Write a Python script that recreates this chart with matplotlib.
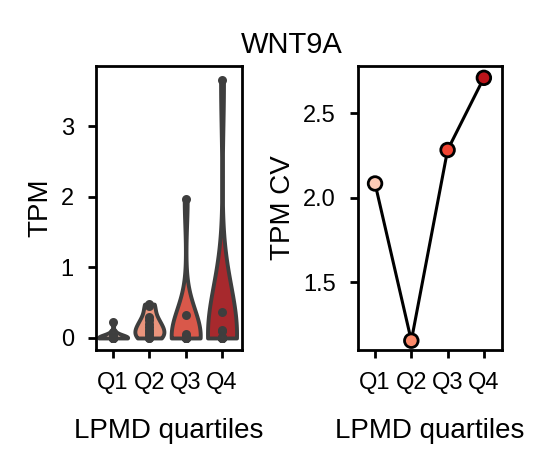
import numpy as np
import pandas as pd
import matplotlib
matplotlib.use("Agg")
import matplotlib.pyplot as plt
import seaborn as sns

plt.rcParams['font.family'] = ['Liberation Sans', 'DejaVu Sans']

categories = ["Q1", "Q2", "Q3", "Q4"]
q1_tpm = [0, 0, 0, 0, 0, 0, 0, 0, 0.01, 0.02, 0.04, 0.08, 0.22]
q2_tpm = [0, 0, 0.02, 0.05, 0.08, 0.12, 0.16, 0.2, 0.25, 0.3, 0.45, 0.48]
q3_tpm = [0, 0, 0, 0, 0, 0, 0.01, 0.03, 0.06, 0.33, 1.97]
q4_tpm = [0, 0, 0, 0, 0, 0, 0.02, 0.1, 0.12, 0.37, 3.65]
tpm_cv = [2.085, 1.155, 2.283, 2.71]
title = "WNT9A"

palette = sns.color_palette("Reds", 4)

df = pd.DataFrame({
    "quartile": sum([[c] * len(v) for c, v in zip(categories, [q1_tpm, q2_tpm, q3_tpm, q4_tpm])], []),
    "tpm": q1_tpm + q2_tpm + q3_tpm + q4_tpm,
})

fig = plt.figure(figsize=(557 / 200, 473 / 200), dpi=200)
ax1 = fig.add_axes([96 / 557, 1 - 350 / 473, 146 / 557, 284 / 473])
ax2 = fig.add_axes([358 / 557, 1 - 350 / 473, 144 / 557, 284 / 473])

sns.violinplot(data=df, x="quartile", y="tpm", hue="quartile", order=categories,
               hue_order=categories, palette=palette, cut=0, inner="point",
               density_norm="width", linewidth=1.4, legend=False, ax=ax1,
               inner_kws=dict(s=5, color="#3f3f3f"))
ax1.set_ylim(-0.17, 3.85)
ax1.set_xlim(-0.47, 3.55)
ax1.set_yticks([0, 1, 2, 3])
ax1.set_ylabel("TPM", fontsize=10, labelpad=2.5)
ax1.set_xlabel("LPMD quartiles", fontsize=10, labelpad=8.5)

x = np.arange(len(categories))
ax2.plot(x, tpm_cv, color="black", linewidth=1.1, zorder=1)
ax2.scatter(x, tpm_cv, c=palette, edgecolors="black", s=24, linewidths=1.0, zorder=2)
ax2.set_xticks(x)
ax2.set_xticklabels(categories)
ax2.set_xlim(-0.47, 3.5)
ax2.set_ylim(1.1, 2.78)
ax2.set_yticks([1.5, 2.0, 2.5])
ax2.set_ylabel("TPM CV", fontsize=10, labelpad=2.5)
ax2.set_xlabel("LPMD quartiles", fontsize=10, labelpad=8.5)

for ax in (ax1, ax2):
    for s in ax.spines.values():
        s.set_linewidth(1.0)
        s.set_color("black")
    ax.tick_params(labelsize=8.5, width=1.0, length=3, color="black", pad=5)

fig.suptitle(title, fontsize=10.5, x=0.523, y=0.935)
fig.savefig("out.png", dpi=200)
